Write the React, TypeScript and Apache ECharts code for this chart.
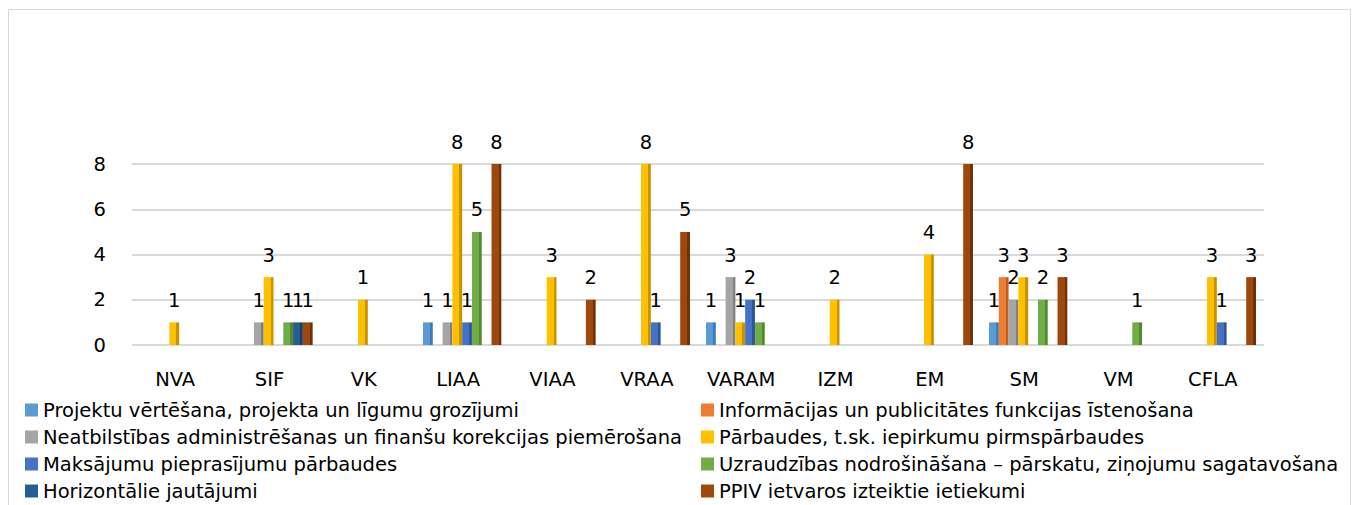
import React, { useEffect, useRef } from "react";
import * as echarts from "echarts";

const categories = ["NVA", "SIF", "VK", "LIAA", "VIAA", "VRAA", "VARAM", "IZM", "EM", "SM", "VM", "CFLA"];

const seriesNames = [
  "Projektu vērtēšana, projekta un līgumu grozījumi",
  "Informācijas un publicitātes funkcijas īstenošana",
  "Neatbilstības administrēšanas un finanšu korekcijas piemērošana",
  "Pārbaudes, t.sk. iepirkumu pirmspārbaudes",
  "Maksājumu pieprasījumu pārbaudes",
  "Uzraudzības nodrošināšana – pārskatu, ziņojumu sagatavošana",
  "Horizontālie jautājumi",
  "PPIV ietvaros izteiktie ietiekumi",
];

const projektu = [null, null, null, 1, null, null, 1, null, null, 1, null, null];
const informacijas = [null, null, null, null, null, null, null, null, null, 3, null, null];
const neatbilstibas = [null, 1, null, 1, null, null, 3, null, null, 2, null, null];
const parbaudes = [1, 3, 2, 8, 3, 8, 1, 2, 4, 3, null, 3];
const parbaudesLabels = [1, 3, 1, 8, 3, 8, 1, 2, 4, 3, null, 3];
const maksajumu = [null, null, null, 1, null, 1, 2, null, null, null, null, 1];
const uzraudzibas = [null, 1, null, 5, null, null, 1, null, null, 2, 1, null];
const horizontalie = [null, 1, null, null, null, null, null, null, null, null, null, null];
const ppiv = [null, 1, null, 8, 2, 5, null, null, 8, 3, null, 3];

const seriesValues = [projektu, informacijas, neatbilstibas, parbaudes, maksajumu, uzraudzibas, horizontalie, ppiv];
const seriesLabels: (number | null)[][] = [projektu, informacijas, neatbilstibas, parbaudesLabels, maksajumu, uzraudzibas, horizontalie, ppiv];

const colors = ["#5B9BD5", "#ED7D31", "#A5A5A5", "#FFC000", "#4472C4", "#70AD47", "#255E91", "#9E480E"];
const sideColors = ["#3F7BB3", "#BF5F1D", "#808080", "#C79400", "#2F5597", "#4F8A2E", "#173F66", "#6E3108"];

const yTicks = [0, 2, 4, 6, 8];

const FONT = "'DejaVu Sans', sans-serif";
const FS = 19.5;

export default function App() {
  const ref = useRef<HTMLDivElement>(null);
  useEffect(() => {
    if (!ref.current) return;
    const chart = echarts.init(ref.current, undefined, { renderer: "svg" });
    const series = seriesNames.map((name, si) => ({
      name,
      type: "bar",
      barGap: "0%",
      barCategoryGap: "17%",
      itemStyle: {
        color: new echarts.graphic.LinearGradient(0, 0, 1, 0, [
          { offset: 0, color: colors[si] },
          { offset: 0.72, color: colors[si] },
          { offset: 0.72, color: sideColors[si] },
          { offset: 1, color: sideColors[si] },
        ]),
      },
      label: {
        show: true,
        position: "top",
        distance: 12,
        fontSize: FS,
        color: "#000",
        fontFamily: FONT,
        formatter: (p: any) => {
          const v = seriesLabels[si][p.dataIndex];
          return v == null ? "" : String(v);
        },
      },
      data: seriesValues[si],
    }));
    const legendItem = (i: number) => ({ name: seriesNames[i], itemStyle: { color: colors[i] } });
    const legendBase = {
      orient: "vertical",
      top: 400,
      height: 104,
      padding: 0,
      itemWidth: 13,
      itemHeight: 13,
      itemGap: 7,
      icon: "rect",
      textStyle: { fontSize: FS, color: "#000", fontFamily: FONT, lineHeight: 20 },
    };
    chart.setOption({
      animation: false,
      color: colors,
      textStyle: { fontFamily: FONT },
      grid: { left: 132, right: 88, top: 164, bottom: 160, containLabel: false },
      legend: [
        { ...legendBase, left: 25, data: [0, 2, 4, 6].map(legendItem) },
        { ...legendBase, left: 701, data: [1, 3, 5, 7].map(legendItem) },
      ],
      xAxis: {
        type: "category",
        data: categories,
        axisLine: { show: false },
        axisTick: { show: false },
        axisLabel: { fontSize: FS, color: "#000", margin: 24, padding: [0, 8, 0, 0], fontFamily: FONT },
      },
      yAxis: {
        type: "value",
        min: yTicks[0],
        max: yTicks[yTicks.length - 1],
        interval: 2,
        axisLine: { show: false },
        axisTick: { show: false },
        axisLabel: { fontSize: FS, color: "#000", margin: 26, fontFamily: FONT },
        splitLine: { lineStyle: { color: "#D9D9D9", width: 2 } },
      },
      graphic: [
        {
          type: "rect",
          shape: { x: 8.5, y: 9.5, width: 1342, height: 520 },
          style: { fill: "none", stroke: "#D9D9D9", lineWidth: 1 },
          silent: true,
        },
      ],
      series,
    });
    return () => chart.dispose();
  }, []);
  return <div ref={ref} style={{ position: "fixed", left: 0, top: 0, width: 1352, height: 505, background: "#fff" }} />;
}
